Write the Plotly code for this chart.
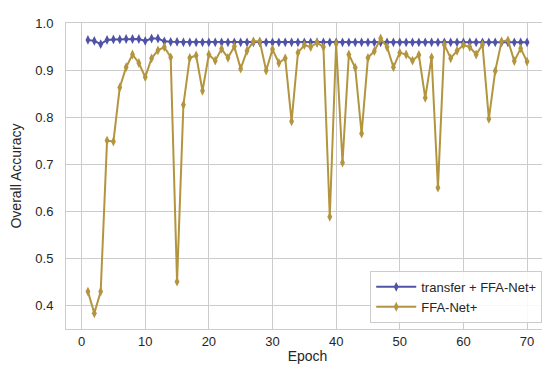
import plotly.graph_objects as go

epochs = list(range(1, 71))

transfer_ffa = [0.964, 0.962, 0.955, 0.964, 0.965, 0.965, 0.966, 0.966, 0.966, 0.962,
                0.967, 0.967, 0.961, 0.960, 0.960, 0.959, 0.959, 0.959, 0.959, 0.959,
                0.959, 0.959, 0.959, 0.959, 0.959, 0.959, 0.959, 0.959, 0.959, 0.959,
                0.959, 0.959, 0.959, 0.959, 0.959, 0.959, 0.959, 0.959, 0.959, 0.959,
                0.959, 0.959, 0.959, 0.959, 0.959, 0.959, 0.959, 0.959, 0.959, 0.959,
                0.959, 0.959, 0.959, 0.959, 0.959, 0.959, 0.959, 0.959, 0.959, 0.959,
                0.959, 0.959, 0.959, 0.959, 0.959, 0.959, 0.959, 0.959, 0.959, 0.959]

ffa_net = [0.429, 0.383, 0.429, 0.750, 0.748, 0.863, 0.906, 0.933, 0.915, 0.885,
           0.925, 0.942, 0.949, 0.927, 0.450, 0.826, 0.926, 0.931, 0.856, 0.933,
           0.920, 0.945, 0.926, 0.950, 0.903, 0.941, 0.961, 0.961, 0.899, 0.944,
           0.915, 0.925, 0.791, 0.937, 0.953, 0.949, 0.958, 0.949, 0.588, 0.956,
           0.703, 0.933, 0.905, 0.765, 0.926, 0.940, 0.967, 0.949, 0.906, 0.937,
           0.933, 0.920, 0.932, 0.841, 0.927, 0.650, 0.954, 0.925, 0.941, 0.953,
           0.949, 0.933, 0.954, 0.796, 0.898, 0.961, 0.963, 0.919, 0.946, 0.918]

x_ticks = [0, 10, 20, 30, 40, 50, 60, 70]
y_ticks = [0.4, 0.5, 0.6, 0.7, 0.8, 0.9, 1.0]

blue = "#4f52a6"
gold = "#b39540"

fig = go.Figure()
fig.add_trace(go.Scatter(
    x=epochs, y=transfer_ffa, name="transfer + FFA-Net+",
    mode="lines+markers",
    line=dict(color=blue, width=2),
    marker=dict(symbol="diamond-tall", size=7, color=blue),
))
fig.add_trace(go.Scatter(
    x=epochs, y=ffa_net, name="FFA-Net+",
    mode="lines+markers",
    line=dict(color=gold, width=2),
    marker=dict(symbol="diamond-tall", size=7, color=gold),
))

font_family = "Liberation Sans, Arial, DejaVu Sans, sans-serif"
fig.update_layout(
    width=550, height=372,
    margin=dict(l=58, r=9, t=15, b=51),
    paper_bgcolor="white", plot_bgcolor="white",
    font=dict(family=font_family, size=13, color="#262626"),
    showlegend=True,
    legend=dict(
        x=0.986, y=0.02, xanchor="right", yanchor="bottom",
        bgcolor="rgba(255,255,255,0.85)", bordercolor="#cccccc", borderwidth=1,
        font=dict(size=13, color="#262626"),
        itemwidth=40, tracegroupgap=0,
    ),
)
fig.update_xaxes(
    range=[-2.45, 73.45], tickvals=x_ticks, ticktext=[str(v) for v in x_ticks],
    showgrid=True, gridcolor="#cccccc", gridwidth=1,
    showline=True, linecolor="#cccccc", linewidth=1, mirror=True,
    zeroline=False, ticks="", tickfont=dict(size=13, color="#262626"),
    ticklabelstandoff=0,
    title=dict(text="Epoch", font=dict(size=14, color="#262626"), standoff=3),
)
fig.update_yaxes(
    range=[0.3495, 1.0], tickvals=y_ticks, ticktext=["%.1f" % v for v in y_ticks],
    showgrid=True, gridcolor="#cccccc", gridwidth=1,
    showline=True, linecolor="#cccccc", linewidth=1, mirror=True,
    zeroline=False, ticks="", tickfont=dict(size=13, color="#262626"),
    ticklabelstandoff=9, automargin=False,
    title=dict(text="Overall Accuracy", font=dict(size=14, color="#262626"), standoff=10),
)

fig.write_html("out.html")
